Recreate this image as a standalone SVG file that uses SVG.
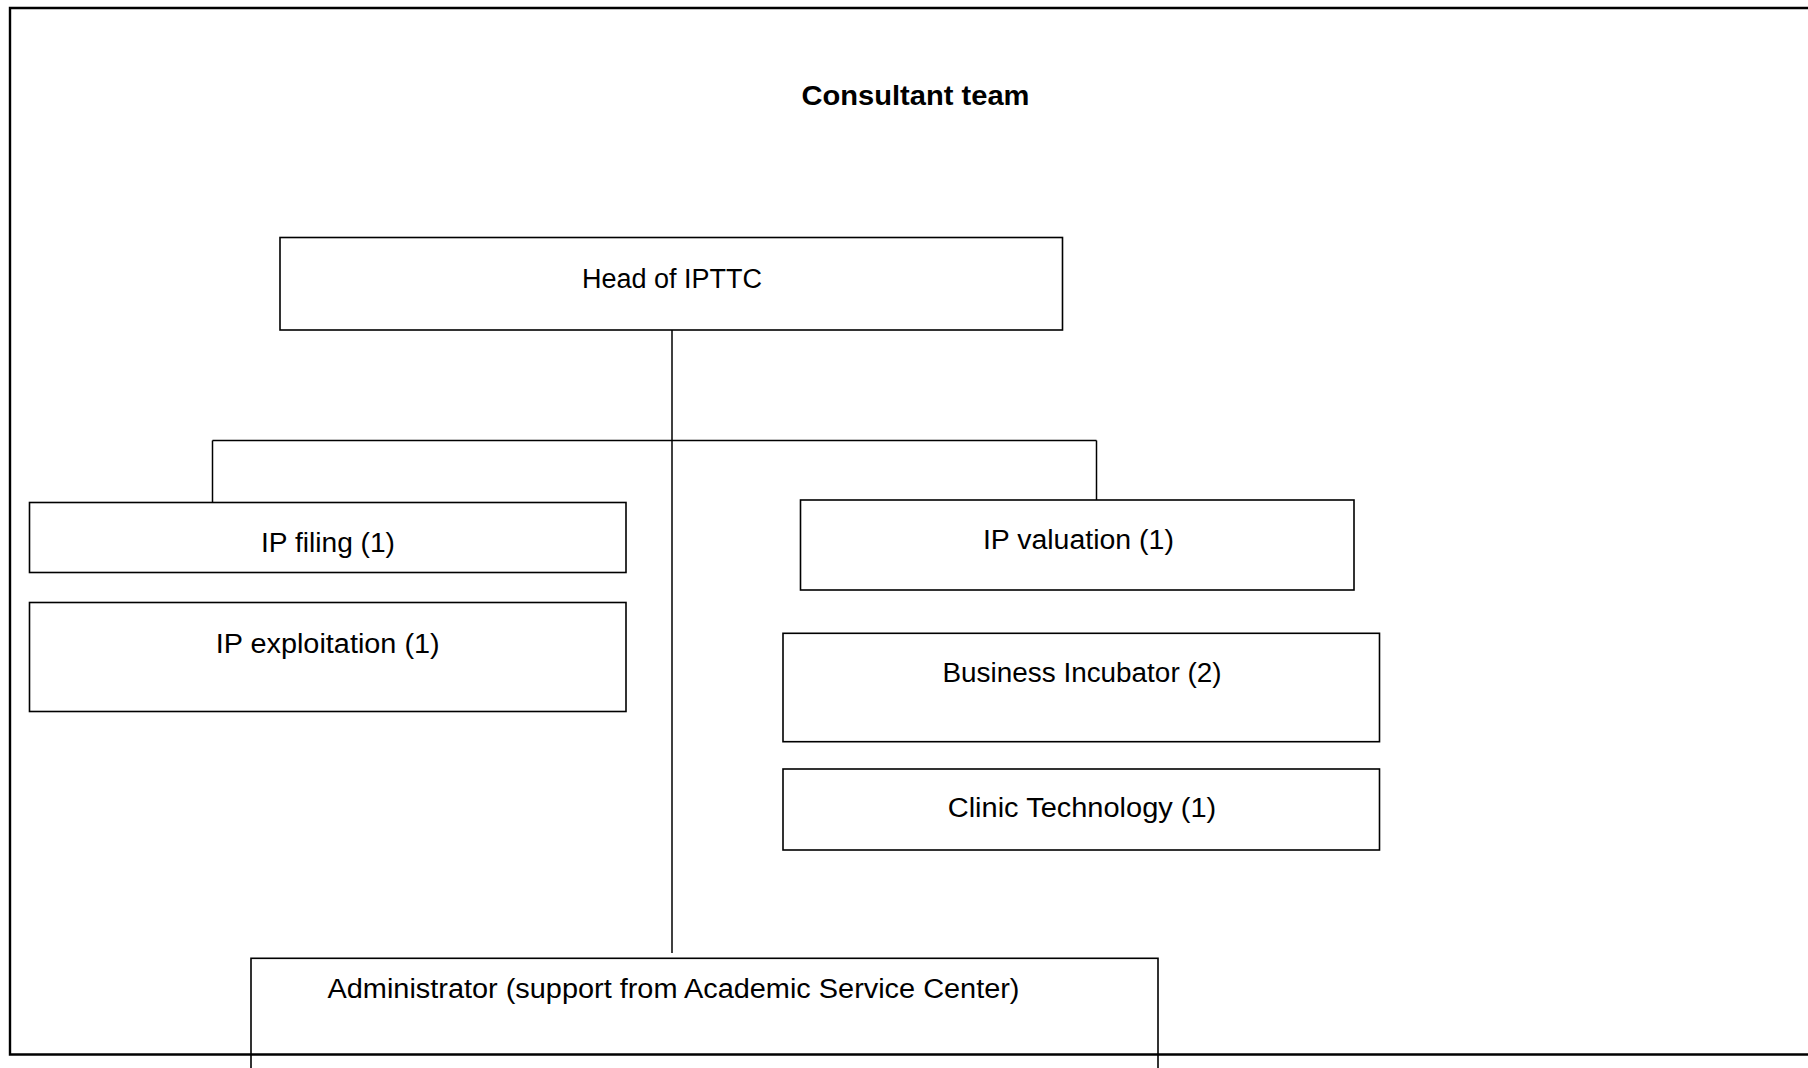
<svg xmlns="http://www.w3.org/2000/svg" width="1808" height="1068" viewBox="0 0 1808 1068">
  <style>
    .box { fill: #ffffff; stroke: #000000; stroke-width: 1.6; }
    .lbl { font-family: "Liberation Sans", Arial, sans-serif; font-size: 27px; fill: #000000; text-anchor: middle; }
    .title { font-family: "Liberation Sans", Arial, sans-serif; font-size: 28px; font-weight: bold; fill: #000000; text-anchor: middle; }
    .wire { fill: none; stroke: #000000; stroke-width: 1.5; }
    .frame { fill: none; stroke: #000000; stroke-width: 2.4; }
  </style>

  <rect x="0" y="0" width="1808" height="1068" fill="#ffffff"/>

  <!-- connectors -->
  <g id="connectors">
    <line class="wire" x1="672" y1="330" x2="672" y2="953"/>
    <line class="wire" x1="212.5" y1="440.5" x2="1096.5" y2="440.5"/>
    <line class="wire" x1="212.5" y1="440.5" x2="212.5" y2="502.5"/>
    <line class="wire" x1="1096.5" y1="440.5" x2="1096.5" y2="500"/>
  </g>

  <g id="title">
    <text class="title" x="915.5" y="105" textLength="228" lengthAdjust="spacingAndGlyphs">Consultant team</text>
  </g>

  <g id="head">
    <rect class="box" x="280" y="237.5" width="782.5" height="92.5"/>
    <text class="lbl" x="672" y="288" textLength="180" lengthAdjust="spacingAndGlyphs">Head of IPTTC</text>
  </g>

  <g id="ip-filing">
    <rect class="box" x="29.5" y="502.5" width="596.5" height="70"/>
    <text class="lbl" x="328" y="551.5" textLength="134" lengthAdjust="spacingAndGlyphs">IP filing (1)</text>
  </g>

  <g id="ip-exploitation">
    <rect class="box" x="29.5" y="602.5" width="596.5" height="109"/>
    <text class="lbl" x="327.7" y="653" textLength="224" lengthAdjust="spacingAndGlyphs">IP exploitation (1)</text>
  </g>

  <g id="ip-valuation">
    <rect class="box" x="800.5" y="500" width="553.5" height="90"/>
    <text class="lbl" x="1078.4" y="549.3" textLength="191" lengthAdjust="spacingAndGlyphs">IP valuation (1)</text>
  </g>

  <g id="business-incubator">
    <rect class="box" x="783" y="633.3" width="596.5" height="108.4"/>
    <text class="lbl" x="1082" y="681.7" textLength="279" lengthAdjust="spacingAndGlyphs">Business Incubator (2)</text>
  </g>

  <g id="clinic-technology">
    <rect class="box" x="783" y="769" width="596.5" height="81"/>
    <text class="lbl" x="1082" y="817.3" textLength="268.5" lengthAdjust="spacingAndGlyphs">Clinic Technology (1)</text>
  </g>

  <g id="administrator">
    <rect class="box" x="251" y="958.3" width="907" height="130"/>
    <text class="lbl" x="673.5" y="998.3" textLength="692" lengthAdjust="spacingAndGlyphs">Administrator (support from Academic Service Center)</text>
  </g>

  <!-- outer frame, open on the right -->
  <path class="frame" d="M1812 8 H10 V1054.5 H1812"/>
</svg>
